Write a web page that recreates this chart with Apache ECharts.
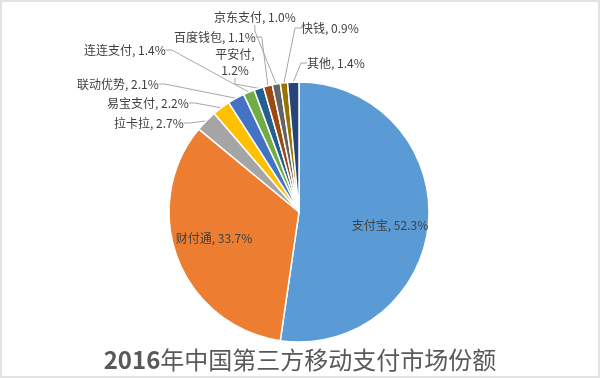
<!DOCTYPE html>
<html>
<head>
<meta charset="utf-8">
<script src="https://cdn.jsdelivr.net/npm/echarts@6/dist/echarts.min.js"></script>
<style>
  html, body { margin: 0; padding: 0; background: #fff; }
  #chart { width: 600px; height: 378px; box-sizing: border-box; border: 2px solid #e3e3e3; }
</style>
</head>
<body>
<div id="chart"></div>
<script>
// 2016 mobile payment market share (%)
const categories = ['支付宝', '财付通', '拉卡拉', '易宝支付', '联动优势', '连连支付', '平安付', '百度钱包', '京东支付', '快钱', '其他'];
const shares = [52.3, 33.7, 2.7, 2.2, 2.1, 1.4, 1.2, 1.1, 1.0, 0.9, 1.4];
const titleYear = '2016';
const titleRest = '年中国第三方移动支付市场份额';

// Excel default palette
const colors = ['#5b9bd5', '#ed7d31', '#a5a5a5', '#ffc000', '#4472c4', '#70ad47',
  '#255e91', '#9e480e', '#636363', '#997300', '#264478'];

// slices labelled inside the pie
const insideLabels = ['支付宝', '财付通'];
// labels that wrap to two lines
const wrapLabels = ['平安付'];

// label placement (Excel-like), [x, y, align] per slice, in chart pixels
const labelSpots = [
  [388, 223, 'center'],
  [212, 236, 'center'],
  [112, 121, 'left'],
  [105, 101, 'left'],
  [75, 82, 'left'],
  [82, 48, 'left'],
  [233, 60, 'center'],
  [172, 35, 'left'],
  [212, 15, 'left'],
  [299, 26, 'left'],
  [305, 61, 'left']
];

const chart = echarts.init(document.getElementById('chart'));

const pieData = categories.map((name, i) => {
  const item = { name, value: shares[i] };
  if (insideLabels.includes(name)) {
    item.label = { position: 'inside' };
    item.labelLine = { show: false };
  }
  return item;
});

const option = {
  animation: false,
  color: colors,
  title: {
    text: '{b|' + titleYear + '}{n|' + titleRest + '}',
    left: 'center',
    top: 341,
    textStyle: {
      fontWeight: 'normal',
      rich: {
        b: { fontFamily: 'Noto Sans CJK SC', fontSize: 24, fontWeight: 'bold', color: '#595959' },
        n: { fontFamily: 'Noto Sans CJK SC', fontSize: 24, fontWeight: 'normal', color: '#595959' }
      }
    }
  },
  series: [
    {
      type: 'pie',
      center: [297, 210],
      radius: [0, 130],
      startAngle: 90,
      clockwise: true,
      avoidLabelOverlap: false,
      data: pieData,
      itemStyle: { borderColor: '#fff', borderWidth: 1.5 },
      label: {
        show: true,
        fontFamily: 'Noto Sans CJK SC',
        fontSize: 12,
        color: '#404040',
        lineHeight: 16,
        formatter: (p) => {
          const sep = wrapLabels.includes(p.name) ? ',\n' : ', ';
          return p.name + sep + p.value.toFixed(1) + '%';
        }
      },
      labelLine: {
        show: true,
        length: 10,
        length2: 6,
        lineStyle: { color: '#a6a6a6', width: 1 }
      },
      labelLayout: (params) => {
        const s = labelSpots[params.dataIndex];
        return { x: s[0], y: s[1], align: s[2], verticalAlign: 'middle' };
      }
    }
  ]
};

chart.setOption(option);
</script>
</body>
</html>
